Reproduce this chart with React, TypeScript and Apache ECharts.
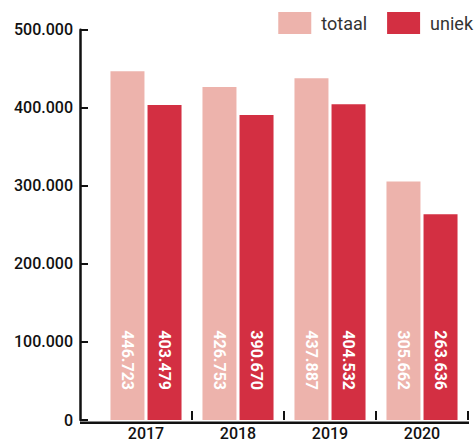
import React, { useEffect, useRef } from "react";
import * as echarts from "echarts";

const categories = ["2017", "2018", "2019", "2020"];
const totaal = [446723, 426753, 437887, 305662];
const uniek = [403479, 390670, 404532, 263636];
const seriesNames = ["totaal", "uniek"];
const yTicks = [0, 100000, 200000, 300000, 400000, 500000];

const FONT = "Roboto, sans-serif";

const fmt = (v: number) => String(v).replace(/\B(?=(\d{3})+(?!\d))/g, ".");

export default function App() {
  const ref = useRef<HTMLDivElement>(null);
  useEffect(() => {
    if (!ref.current) return;
    const chart = echarts.init(ref.current, null, { renderer: "svg" });
    const label = {
      show: true,
      position: "insideBottom",
      rotate: -90,
      align: "right",
      verticalAlign: "middle",
      distance: 30,
      color: "#fff",
      fontFamily: FONT,
      fontSize: 16,
      fontWeight: "bold",
      formatter: (p: any) => fmt(p.value),
    };
    chart.setOption({
      animation: false,
      textStyle: { fontFamily: FONT },
      legend: {
        data: seriesNames,
        right: 3,
        top: 12,
        padding: 0,
        itemWidth: 33,
        itemHeight: 22,
        itemGap: 20,
        icon: "rect",
        textStyle: { fontSize: 18, color: "#333", fontFamily: FONT, padding: [0, 0, 0, 5] },
      },
      grid: { left: 100, right: 8, top: 29.7, bottom: 18.3, containLabel: false },
      xAxis: {
        type: "category",
        data: categories,
        axisLine: { show: false },
        axisTick: {
          show: true,
          inside: true,
          length: 9,
          lineStyle: { color: "#111", width: 2 },
          interval: (i: number) => i !== 0,
        },
        axisLabel: { color: "#111", fontSize: 16, fontWeight: 500, margin: 5, fontFamily: FONT },
      },
      yAxis: {
        type: "value",
        min: 0,
        max: yTicks[yTicks.length - 1],
        interval: 100000,
        offset: 20,
        axisLine: { show: true, lineStyle: { color: "#111", width: 2.5 } },
        axisTick: { show: true, inside: true, length: 8, lineStyle: { color: "#111", width: 2 } },
        splitLine: { show: false },
        axisLabel: {
          color: "#111",
          fontSize: 16,
          fontWeight: 500,
          margin: 7,
          fontFamily: FONT,
          formatter: (v: number) => fmt(v),
        },
      },
      graphic: [
        {
          type: "line",
          shape: { x1: 80, y1: 422.7, x2: 469, y2: 422.7 },
          style: { stroke: "#111", lineWidth: 2.5 },
          z: 10,
        },
      ],
      series: [
        {
          name: seriesNames[0],
          type: "bar",
          data: totaal,
          barWidth: 34,
          barGap: "9%",
          itemStyle: { color: "#EDB3AC" },
          label,
        },
        {
          name: seriesNames[1],
          type: "bar",
          data: uniek,
          barWidth: 34,
          barGap: "9%",
          itemStyle: { color: "#D32F42" },
          label,
        },
      ],
    });
    return () => chart.dispose();
  }, []);
  return <div ref={ref} style={{ width: 476, height: 441, position: "absolute", left: 0, top: 0 }} />;
}
